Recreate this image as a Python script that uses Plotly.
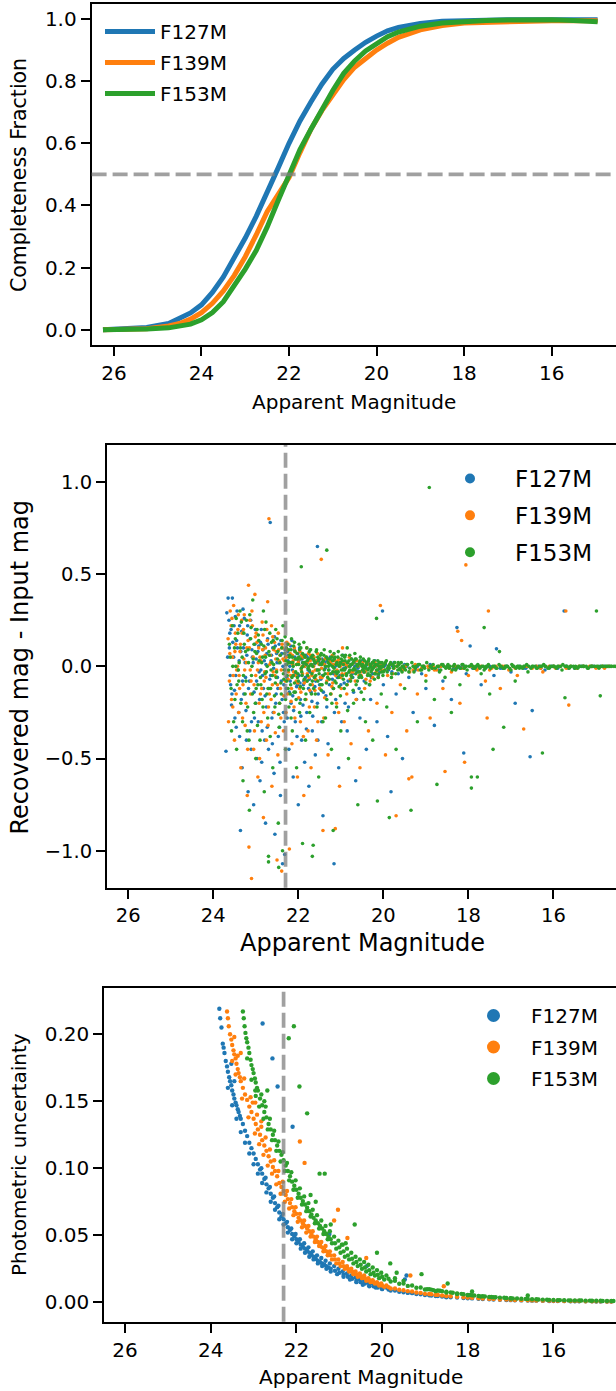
import plotly.graph_objects as go

W, H = 616, 1391
FONT = "DejaVu Sans"
FILTERS = ["F127M", "F139M", "F153M"]
COLORS = ["#1f77b4", "#ff7f0e", "#2ca02c"]
XTICKS = [26, 24, 22, 20, 18, 16]
COMPLETENESS_LEVEL = 0.5
MAG_LIMIT = 22.3

# ---------------- panel 1: completeness curves ----------------
COMP_MAG = [26.25, 25.75, 25.25, 24.75, 24.5, 24.25, 24.0, 23.75, 23.5, 23.25, 23.0, 22.75,
            22.5, 22.25, 22.0, 21.75, 21.5, 21.25, 21.0, 20.75, 20.5, 20.25, 20.0, 19.75,
            19.5, 19.0, 18.5, 18.0, 17.5, 17.0, 16.5, 16.0, 15.5, 14.95]
COMP_F127M = [0.0, 0.002, 0.007, 0.02, 0.035, 0.054, 0.08, 0.12, 0.17, 0.232, 0.295, 0.365,
              0.44, 0.52, 0.6, 0.672, 0.733, 0.79, 0.838, 0.873, 0.9, 0.925, 0.945, 0.962,
              0.973, 0.986, 0.993, 0.996, 0.998, 0.998, 0.998, 0.998, 0.998, 0.998]
COMP_F139M = [0.0, 0.001, 0.003, 0.012, 0.02, 0.034, 0.055, 0.085, 0.125, 0.175, 0.235, 0.305,
              0.38, 0.435, 0.49, 0.57, 0.645, 0.705, 0.755, 0.805, 0.845, 0.875, 0.9, 0.922,
              0.941, 0.965, 0.979, 0.987, 0.99, 0.992, 0.993, 0.994, 0.994, 0.994]
COMP_F153M = [0.0, 0.0, 0.002, 0.006, 0.01, 0.018, 0.032, 0.055, 0.09, 0.14, 0.195, 0.255,
              0.33, 0.415, 0.5, 0.58, 0.645, 0.71, 0.77, 0.825, 0.865, 0.897, 0.92, 0.943,
              0.958, 0.977, 0.987, 0.992, 0.995, 0.997, 0.998, 0.998, 0.995, 0.991]

# ---------------- panel 2: recovered - input magnitude ----------------
RESID_F127M = [
    (23.70, -0.46), (23.68, 0.29), (23.65, 0.37), (23.62, 0.10), (23.60, -0.05), (23.58, 0.20),
    (23.57, -0.21), (23.55, 0.37), (23.52, 0.05), (23.50, -0.13), (23.48, 0.27), (23.46, -0.33),
    (23.45, 0.14), (23.42, -0.02), (23.40, -0.25), (23.38, 0.22), (23.36, -0.89), (23.35, 0.08),
    (23.32, -0.55), (23.30, 0.31), (23.28, -0.15), (23.25, 0.02), (23.22, -0.40), (23.20, 0.17),
    (23.18, -0.68), (23.15, -0.08), (23.12, 0.25), (23.10, -0.30), (23.08, 0.05), (23.05, -0.75),
    (23.02, 0.12), (23.00, -0.20), (22.97, -0.50), (22.95, 0.08), (22.92, -0.03), (22.90, -0.62),
    (22.87, 0.20), (22.85, -0.35), (22.82, -0.12), (22.80, 0.03), (22.77, -0.85), (22.75, -0.22),
    (22.72, 0.15), (22.70, -0.45), (22.66, 0.78), (22.65, -0.05), (22.62, -0.28), (22.60, 0.10),
    (22.57, -0.58), (22.55, -0.91), (22.52, -0.15), (22.50, 0.02), (22.47, -0.38), (22.45, 0.12),
    (22.42, -0.70), (22.40, -0.08), (22.37, -1.07), (22.35, -0.25), (22.32, -1.02), (22.30, 0.05),
    (22.28, -0.12), (22.25, 0.08), (22.22, -0.45), (22.20, 0.00), (22.17, -0.20), (22.15, 0.14),
    (22.12, -0.60), (22.10, -0.05), (22.07, -0.30), (22.05, 0.04), (22.02, -0.10), (22.00, -0.75),
    (21.97, 0.10), (21.95, -0.18), (21.92, -0.40), (21.90, 0.02), (21.87, -0.08), (21.85, -0.52),
    (21.82, 0.06), (21.80, -0.25), (21.77, -0.02), (21.75, -0.65), (21.72, 0.09), (21.70, -0.14),
    (21.67, -0.35), (21.65, 0.00), (21.62, -0.06), (21.60, -0.48), (21.55, 0.65), (21.55, -0.20),
    (21.52, 0.04), (21.50, -0.10), (21.45, -0.30), (21.42, -0.81), (21.40, 0.03), (21.35, -0.16),
    (21.30, -0.42), (21.25, 0.05), (21.20, -0.07), (21.16, -1.07), (21.15, -0.25), (21.10, 0.02),
    (21.05, -0.55), (21.00, -0.10), (20.95, 0.06), (20.90, -0.20), (20.85, -0.35), (20.80, -0.03),
    (20.75, 0.04), (20.70, -0.14), (20.65, -0.62), (20.60, -0.01), (20.55, -0.28), (20.50, 0.03),
    (20.45, -0.08), (20.40, -0.45), (20.35, 0.02), (20.30, -0.18), (20.25, -0.04), (20.20, 0.03),
    (20.15, -0.30), (20.10, -0.02), (20.02, 0.30), (20.00, -0.10), (19.95, 0.01), (19.90, -0.38),
    (19.82, -0.68), (19.80, -0.03), (19.75, 0.02), (19.70, -0.15), (19.60, -0.01), (19.55, -0.50),
    (19.50, 0.01), (19.40, -0.06), (19.30, -0.25), (19.20, 0.00), (19.10, -0.04), (19.00, -0.12),
    (18.90, 0.01), (18.80, -0.32), (18.70, -0.02), (18.60, -0.08), (18.50, 0.00), (18.40, -0.18),
    (18.27, 0.21), (18.20, -0.01), (18.11, -0.47), (18.05, -0.04), (17.96, 0.11), (17.90, -0.01),
    (17.80, 0.00), (17.70, -0.10), (17.60, -0.01), (17.50, 0.00), (17.40, -0.05), (17.34, 0.095),
    (17.20, -0.01), (17.10, 0.00), (17.00, -0.03), (16.90, -0.20), (16.80, 0.00), (16.70, -0.01),
    (16.55, -0.49), (16.50, -0.24), (16.40, 0.00), (16.30, -0.01), (16.20, -0.02), (16.00, 0.00),
    (15.90, -0.01), (15.75, 0.30), (15.70, 0.00), (15.50, -0.01), (15.30, 0.00), (15.10, 0.00),
    (14.90, 0.00), (14.70, 0.00),
    (23.63, 0.25), (23.59, -0.10), (23.54, 0.13), (23.49, -0.28), (23.44, 0.30), (23.39, 0.03),
    (23.34, -0.18), (23.29, 0.10), (23.24, -0.06), (23.19, 0.22), (23.14, -0.35), (23.09, 0.09),
    (23.04, -0.14), (22.99, 0.04), (22.94, -0.30), (22.89, 0.13), (22.84, -0.05), (22.79, -0.40),
    (22.74, 0.07), (22.69, -0.12), (22.64, 0.03), (22.59, -0.25), (22.54, 0.11), (22.49, -0.06),
    (22.44, -0.33), (22.39, 0.07), (22.34, -0.10), (22.29, 0.01), (22.26, -0.28), (22.23, 0.06),
    (22.19, -0.08), (22.16, 0.02), (22.13, -0.16), (22.09, 0.09), (22.06, -0.04), (22.03, -0.38),
    (21.99, 0.03), (21.96, -0.09), (21.93, 0.06), (21.89, -0.21), (21.86, 0.01), (21.83, -0.06),
    (21.79, 0.05), (21.76, -0.12), (21.73, -0.03), (21.69, 0.04), (21.66, -0.27), (21.63, 0.01),
    (21.59, -0.08), (21.56, 0.03), (21.53, -0.15), (21.48, 0.01), (21.43, -0.05), (21.38, 0.02),
    (21.33, -0.22), (21.28, -0.02), (21.23, 0.03), (21.18, -0.12), (21.13, 0.00), (21.08, -0.06),
    (21.03, 0.02), (20.98, -0.30), (20.93, -0.01), (20.88, 0.02), (20.83, -0.08), (20.78, 0.00),
    (20.73, -0.04), (20.68, 0.02), (20.63, -0.18), (20.58, 0.00), (20.48, -0.02), (20.38, 0.01),
    (20.28, -0.06), (20.18, 0.00), (20.08, -0.03), (19.98, 0.00), (19.88, -0.02), (19.78, 0.00),
    (19.65, -0.04), (19.45, 0.00), (19.25, -0.02), (19.05, 0.00), (18.85, -0.01), (18.65, 0.00),
    (18.35, -0.01), (18.15, 0.00), (17.85, -0.01), (17.55, 0.00), (17.25, -0.01), (16.95, 0.00),
    (16.65, -0.01), (16.35, 0.00), (16.05, 0.00), (15.65, -0.01), (15.35, 0.00), (15.05, 0.00),
    (14.80, 0.00),
    (23.66, 0.05), (23.61, 0.18), (23.56, -0.15), (23.51, 0.22), (23.47, -0.05), (23.43, 0.10),
    (23.38, -0.38), (23.33, 0.19), (23.31, -0.08), (23.27, 0.26), (23.23, -0.24), (23.21, 0.06),
    (23.17, -0.12), (23.13, 0.15), (23.11, -0.45), (23.06, 0.02), (23.03, -0.28), (23.01, 0.20),
    (22.98, -0.08), (22.93, 0.11), (22.91, -0.18), (22.88, -0.02), (22.86, -0.52), (22.83, 0.09),
    (22.78, -0.16), (22.76, 0.01), (22.73, -0.33), (22.71, 0.12), (22.67, -0.07), (22.63, 0.06),
    (22.61, -0.42), (22.58, -0.01), (22.56, 0.16), (22.53, -0.20), (22.51, 0.07), (22.48, -0.12),
    (22.46, 0.02), (22.43, -0.52), (22.41, 0.14), (22.38, -0.18), (22.36, 0.00), (22.33, -0.30),
    (22.31, 0.09), (22.27, -0.06), (22.24, 0.03), (22.21, -0.14), (22.18, 0.11), (22.14, -0.02),
    (22.11, -0.24), (22.08, 0.05), (22.04, -0.11), (22.01, 0.07), (21.98, -0.05), (21.94, -0.27),
    (21.91, 0.04), (21.88, -0.10), (21.84, 0.00), (21.81, -0.34), (21.78, 0.03), (21.74, -0.07),
    (21.71, 0.01), (21.68, -0.19), (21.64, 0.05), (21.61, -0.11), (21.57, -0.02), (21.54, -0.40),
    (21.51, 0.02), (21.47, -0.07), (21.44, 0.04), (21.41, -0.14), (21.37, -0.01), (21.32, 0.03),
    (21.27, -0.10), (21.22, 0.01), (21.17, -0.04), (21.12, -0.18), (21.07, 0.01), (21.02, -0.05),
    (20.97, 0.02), (20.92, -0.09), (20.87, 0.00), (20.82, -0.22), (20.77, 0.01), (20.72, -0.06),
    (20.67, 0.00), (20.62, -0.03), (20.57, -0.12), (20.52, 0.01), (20.46, -0.03), (20.42, 0.00),
    (20.33, -0.10), (20.22, 0.00), (20.12, -0.05), (20.04, 0.01),
]
RESID_F139M = [
    (23.65, 0.15), (23.62, -0.08), (23.60, 0.30), (23.57, -0.18), (23.55, 0.05), (23.52, 0.33),
    (23.50, -0.40), (23.47, 0.12), (23.45, -0.02), (23.42, 0.20), (23.40, -0.25), (23.37, 0.08),
    (23.35, -0.55), (23.32, 0.18), (23.30, -0.10), (23.27, 0.28), (23.25, -0.32), (23.22, 0.02),
    (23.20, -0.70), (23.17, 0.44), (23.16, -0.98), (23.15, 0.10), (23.12, -0.15), (23.10, -1.15),
    (23.08, 0.22), (23.05, -0.45), (23.02, 0.39), (23.00, -0.05), (22.97, 0.13), (22.95, -0.60),
    (22.92, -0.20), (22.90, 0.05), (22.87, -0.30), (22.85, 0.24), (22.82, -0.82), (22.80, -0.08),
    (22.77, 0.10), (22.75, -0.40), (22.72, 0.35), (22.69, 0.80), (22.68, -0.15), (22.65, 0.02),
    (22.62, -0.65), (22.60, 0.16), (22.57, -0.25), (22.55, -0.05), (22.52, 0.08), (22.50, -1.05),
    (22.48, -0.48), (22.45, 0.03), (22.42, -0.12), (22.39, -1.11), (22.38, 0.12), (22.35, -0.35),
    (22.32, -0.02), (22.28, 0.05), (22.25, -0.15), (22.22, 0.12), (22.21, -0.99), (22.18, -0.05),
    (22.15, -0.42), (22.12, 0.03), (22.10, -0.22), (22.07, 0.08), (22.05, -0.08), (22.02, -0.60),
    (22.00, 0.02), (21.97, -0.12), (21.95, -0.30), (21.92, 0.06), (21.90, -0.04), (21.87, -0.70),
    (21.85, 0.00), (21.82, -0.18), (21.80, 0.10), (21.77, -0.35), (21.75, -0.06), (21.72, 0.03),
    (21.70, -0.55), (21.67, -0.10), (21.65, 0.05), (21.62, -0.22), (21.60, -0.02), (21.57, -0.40),
    (21.55, 0.07), (21.50, -0.12), (21.46, 0.58), (21.45, -0.01), (21.42, -0.89), (21.40, -0.28),
    (21.37, 0.04), (21.33, -0.08), (21.30, -0.48), (21.27, 0.02), (21.23, -0.15), (21.20, 0.06),
    (21.16, -0.03), (21.13, -0.88), (21.10, -0.20), (21.07, 0.03), (21.03, -0.65), (21.00, -0.06),
    (20.96, 0.10), (20.92, -0.30), (20.88, 0.01), (20.85, -0.10), (20.80, 0.05), (20.76, -0.42),
    (20.72, -0.03), (20.68, 0.03), (20.64, -0.18), (20.60, 0.00), (20.55, -0.55), (20.52, -0.05),
    (20.48, 0.02), (20.44, -0.12), (20.40, -0.02), (20.35, -0.35), (20.30, 0.01), (20.25, -0.06),
    (20.20, 0.02), (20.15, -0.20), (20.07, 0.33), (20.05, -0.02), (20.00, 0.01), (19.95, -0.48),
    (19.90, -0.05), (19.85, 0.01), (19.80, -0.25), (19.75, -0.01), (19.70, -0.81), (19.65, 0.01),
    (19.60, -0.10), (19.55, -0.02), (19.50, 0.00), (19.45, -0.35), (19.40, -0.61), (19.33, -0.60),
    (19.30, -0.02), (19.25, 0.01), (19.20, -0.15), (19.10, -0.01), (19.00, -0.05), (18.95, 0.00),
    (18.90, -0.28), (18.80, -0.02), (18.70, 0.00), (18.60, -0.12), (18.55, -0.57), (18.50, 0.00),
    (18.40, -0.03), (18.30, 0.00), (18.25, 0.19), (18.20, -0.20), (18.16, 0.14), (18.10, -0.01),
    (18.09, -0.52), (18.06, 0.55), (18.00, -0.05), (17.90, 0.00), (17.80, -0.02), (17.70, 0.00),
    (17.60, -0.08), (17.56, -0.28), (17.53, 0.30), (17.45, -0.01), (17.35, 0.00), (17.25, -0.12),
    (17.15, 0.00), (17.05, -0.02), (16.95, 0.00), (16.85, -0.05), (16.70, -0.34), (16.65, 0.00),
    (16.50, -0.01), (16.40, 0.00), (16.25, -0.03), (16.10, 0.00), (15.95, -0.01), (15.85, 0.00),
    (15.71, 0.30), (15.64, -0.21), (15.60, 0.00), (15.45, -0.01), (15.30, 0.00), (15.15, 0.00),
    (15.00, -0.01), (14.85, 0.00), (14.70, 0.00),
    (23.58, 0.22), (23.53, -0.05), (23.48, 0.18), (23.43, 0.00), (23.38, -0.12), (23.33, 0.25),
    (23.28, 0.04), (23.23, -0.20), (23.18, 0.14), (23.13, -0.02), (23.09, 0.30), (23.04, -0.10),
    (22.99, 0.18), (22.94, 0.02), (22.89, -0.15), (22.84, 0.09), (22.79, -0.03), (22.74, 0.20),
    (22.70, -0.22), (22.66, 0.06), (22.61, -0.10), (22.56, 0.13), (22.51, -0.02), (22.46, 0.09),
    (22.41, -0.28), (22.36, 0.04), (22.31, -0.08), (22.27, 0.13), (22.23, -0.03), (22.19, 0.07),
    (22.16, -0.12), (22.13, 0.01), (22.09, 0.10), (22.06, -0.05), (22.03, 0.04), (21.99, -0.17),
    (21.96, 0.08), (21.93, -0.02), (21.89, 0.05), (21.86, -0.09), (21.83, 0.02), (21.79, -0.04),
    (21.76, 0.07), (21.73, -0.13), (21.69, 0.01), (21.66, -0.03), (21.63, 0.05), (21.59, -0.07),
    (21.56, 0.02), (21.53, -0.02), (21.49, 0.04), (21.44, -0.06), (21.39, 0.01), (21.34, 0.05),
    (21.29, -0.04), (21.24, 0.02), (21.19, -0.09), (21.14, 0.03), (21.09, -0.02), (21.04, 0.04),
    (20.99, -0.12), (20.94, 0.01), (20.89, -0.04), (20.84, 0.02), (20.78, -0.07), (20.74, 0.01),
    (20.69, -0.02), (20.62, 0.03), (20.57, -0.05), (20.50, 0.00), (20.43, -0.03), (20.37, 0.02),
    (20.31, -0.08), (20.23, 0.00), (20.17, -0.03), (20.09, 0.01), (19.98, -0.02), (19.88, 0.00),
    (19.78, -0.04), (19.68, 0.00), (19.58, -0.01), (19.48, 0.00), (19.38, -0.03), (19.28, 0.00),
    (19.18, -0.02), (19.05, 0.00), (18.93, -0.01), (18.83, 0.00), (18.75, -0.02), (18.65, 0.00),
    (18.45, -0.01), (18.35, 0.00), (18.15, -0.01), (17.95, 0.00), (17.75, -0.01), (17.50, -0.02),
    (17.20, 0.00), (16.90, -0.01), (16.60, 0.00), (16.30, -0.01), (16.00, 0.00), (15.70, -0.01),
    (15.40, 0.00), (15.10, 0.00), (14.80, -0.01),
    (23.64, -0.30), (23.61, 0.07), (23.56, 0.26), (23.54, -0.22), (23.49, 0.08), (23.46, -0.15),
    (23.41, 0.28), (23.39, -0.05), (23.36, 0.12), (23.31, -0.28), (23.29, 0.20), (23.26, -0.02),
    (23.21, 0.10), (23.19, -0.45), (23.14, 0.25), (23.11, -0.08), (23.06, 0.05), (23.03, -0.35),
    (23.01, 0.16), (22.96, -0.02), (22.93, 0.10), (22.91, -0.50), (22.88, 0.03), (22.86, -0.12),
    (22.83, 0.17), (22.81, -0.25), (22.78, 0.06), (22.76, -0.06), (22.73, 0.14), (22.71, -0.32),
    (22.67, 0.01), (22.64, -0.18), (22.63, 0.22), (22.59, -0.03), (22.58, 0.09), (22.54, -0.36),
    (22.53, 0.04), (22.49, -0.10), (22.47, 0.18), (22.44, -0.20), (22.43, 0.06), (22.40, -0.02),
    (22.37, 0.10), (22.34, -0.16), (22.33, 0.03), (22.29, -0.25), (22.26, 0.09), (22.24, -0.07),
    (22.20, 0.02), (22.17, -0.19), (22.14, 0.06), (22.11, -0.03), (22.08, -0.28), (22.04, 0.01),
    (22.01, -0.09), (21.98, 0.04), (21.94, -0.14), (21.91, 0.00), (21.88, -0.38), (21.84, 0.05),
    (21.81, -0.08), (21.78, 0.02), (21.74, -0.22), (21.71, 0.06), (21.68, -0.05), (21.64, 0.00),
    (21.61, -0.13), (21.58, 0.03), (21.54, -0.30), (21.51, 0.01), (21.48, -0.06), (21.43, 0.02),
    (21.38, -0.17), (21.35, 0.00), (21.31, -0.04), (21.26, 0.03), (21.21, -0.11), (21.17, 0.01),
    (21.12, -0.05), (21.08, 0.02), (21.05, -0.25), (21.01, 0.00), (20.97, -0.04), (20.93, 0.02),
    (20.86, -0.15), (20.82, 0.00), (20.77, -0.03), (20.70, 0.02), (20.66, -0.08), (20.58, 0.01),
    (20.53, -0.03), (20.46, 0.00), (20.41, -0.07), (20.33, 0.01), (20.27, -0.02), (20.19, 0.00),
    (20.12, -0.06), (20.03, 0.00),
]
RESID_F153M = [
    (23.60, 0.05), (23.58, -0.12), (23.55, 0.22), (23.52, -0.30), (23.50, 0.10), (23.47, 0.00),
    (23.45, -0.45), (23.42, 0.18), (23.40, -0.08), (23.37, 0.30), (23.35, -0.20), (23.32, 0.05),
    (23.30, -0.62), (23.27, 0.12), (23.25, -0.15), (23.22, 0.25), (23.20, -0.35), (23.17, 0.02),
    (23.15, -0.78), (23.12, 0.15), (23.10, -0.05), (23.07, 0.36), (23.05, -0.25), (23.02, 0.08),
    (23.00, -0.50), (22.97, 0.20), (22.95, -0.10), (22.92, 0.03), (22.90, -0.40), (22.87, 0.12),
    (22.85, -0.18), (22.82, 0.30), (22.80, -0.68), (22.77, 0.05), (22.75, -0.03), (22.72, -0.28),
    (22.70, -1.03), (22.70, -1.06), (22.67, 0.18), (22.65, -0.12), (22.62, 0.02), (22.60, -0.55),
    (22.57, 0.10), (22.55, -0.22), (22.52, -0.06), (22.50, 0.15), (22.47, -0.85), (22.46, -1.09),
    (22.45, -0.33), (22.42, 0.06), (22.40, -0.15), (22.37, -1.00), (22.36, 0.22), (22.33, -0.02),
    (22.30, -0.45), (22.28, 0.10), (22.26, -0.05), (22.24, 0.02), (22.22, -0.22), (22.20, 0.06),
    (22.18, -0.10), (22.16, 0.15), (22.14, -0.35), (22.12, 0.00), (22.10, -0.14), (22.08, 0.08),
    (22.06, -0.03), (22.04, -0.55), (22.02, 0.04), (22.00, -0.08), (21.98, 0.12), (21.96, -0.20),
    (21.93, 0.54), (21.93, -0.01), (21.90, -0.96), (21.90, 0.07), (21.88, -0.12), (21.85, 0.02),
    (21.83, -0.40), (21.80, 0.10), (21.78, -0.05), (21.75, 0.00), (21.73, -0.25), (21.70, 0.05),
    (21.67, -1.03), (21.67, -0.08), (21.65, -0.97), (21.63, 0.03), (21.60, -0.15), (21.58, 0.08),
    (21.55, -0.02), (21.52, -0.60), (21.50, 0.04), (21.47, -0.10), (21.45, 0.01), (21.42, -0.30),
    (21.40, 0.06), (21.37, -0.04), (21.33, 0.63), (21.33, -0.18), (21.30, 0.02), (21.27, -0.07),
    (21.25, 0.08), (21.22, -0.45), (21.20, 0.00), (21.18, -0.89), (21.17, -0.12), (21.15, 0.04),
    (21.12, -0.03), (21.10, -0.22), (21.07, 0.05), (21.05, -0.06), (21.02, 0.01), (21.00, -0.35),
    (20.97, 0.06), (20.95, -0.02), (20.92, -0.12), (20.90, 0.03), (20.87, -0.05), (20.85, 0.10),
    (20.82, -0.50), (20.80, 0.00), (20.77, -0.08), (20.75, 0.04), (20.72, -0.02), (20.70, -0.20),
    (20.67, 0.07), (20.65, -0.04), (20.62, 0.01), (20.60, -0.75), (20.57, -0.06), (20.55, 0.03),
    (20.52, -0.14), (20.50, 0.00), (20.47, 0.04), (20.45, -0.03), (20.42, -0.30), (20.40, 0.01),
    (20.37, -0.05), (20.35, 0.03), (20.32, -0.10), (20.30, 0.00), (20.27, -0.02), (20.25, -0.40),
    (20.22, 0.03), (20.20, -0.04), (20.16, 0.26), (20.15, 0.01), (20.14, -0.73), (20.12, -0.06),
    (20.10, 0.02), (20.05, -0.15), (20.02, 0.00), (20.00, -0.03), (19.95, 0.02), (19.92, -0.22),
    (19.90, -0.01), (19.86, -0.82), (19.85, 0.01), (19.80, -0.04), (19.75, 0.00), (19.70, -0.45),
    (19.65, 0.02), (19.60, -0.02), (19.55, 0.00), (19.50, -0.12), (19.45, 0.01), (19.40, -0.03),
    (19.35, -0.78), (19.30, 0.00), (19.25, -0.01), (19.20, -0.30), (19.15, 0.01), (19.10, -0.02),
    (19.05, 0.00), (19.00, -0.08), (18.92, 0.97), (18.90, 0.00), (18.85, -0.01), (18.80, -0.18),
    (18.74, -0.64), (18.70, 0.00), (18.65, -0.02), (18.60, 0.01), (18.55, -0.06), (18.50, 0.00),
    (18.45, -0.01), (18.40, -0.25), (18.35, 0.00), (18.30, -0.02), (18.25, 0.00), (18.20, -0.10),
    (18.15, 0.01), (18.10, -0.01), (18.05, 0.00), (17.93, -0.60), (17.93, -0.66), (17.90, 0.00),
    (17.85, -0.01), (17.79, -0.60), (17.75, 0.00), (17.70, -0.04), (17.65, 0.00), (17.63, 0.21),
    (17.60, -0.01), (17.55, 0.00), (17.50, -0.15), (17.42, -0.45), (17.40, 0.00), (17.35, -0.01),
    (17.27, 0.08), (17.25, 0.00), (17.17, -0.33), (17.15, -0.01), (17.10, 0.00), (17.00, -0.02),
    (16.95, 0.00), (16.90, -0.08), (16.85, 0.00), (16.80, -0.01), (16.70, 0.00), (16.60, -0.03),
    (16.50, 0.00), (16.40, -0.01), (16.30, 0.00), (16.26, -0.47), (16.20, 0.00), (16.10, -0.01),
    (16.00, 0.00), (15.90, 0.00), (15.80, -0.02), (15.73, -0.17), (15.70, 0.00), (15.60, 0.00),
    (15.50, -0.01), (15.40, 0.00), (15.30, 0.00), (15.20, -0.01), (15.10, 0.00), (14.99, 0.30),
    (14.95, 0.00), (14.90, -0.16), (14.85, 0.00), (14.75, 0.00), (14.65, 0.00), (14.55, 0.00),
    (23.48, 0.15), (23.44, -0.10), (23.39, 0.02), (23.34, 0.24), (23.29, -0.05), (23.24, 0.08),
    (23.19, -0.22), (23.14, 0.28), (23.09, 0.00), (23.04, 0.12), (22.99, -0.12), (22.94, 0.17),
    (22.89, -0.06), (22.84, 0.05), (22.79, 0.20), (22.74, -0.15), (22.69, 0.08), (22.64, -0.02),
    (22.59, 0.14), (22.54, -0.09), (22.49, 0.04), (22.44, -0.20), (22.39, 0.10), (22.34, -0.07),
    (22.31, 0.16),
    (22.29, 0.03), (22.27, -0.08), (22.25, 0.12), (22.23, -0.02), (22.21, 0.05), (22.19, -0.15),
    (22.17, 0.09), (22.15, -0.06), (22.13, 0.02), (22.11, 0.11), (22.09, -0.09), (22.07, 0.04),
    (22.05, -0.18), (22.03, 0.07), (22.01, -0.04), (21.99, 0.01), (21.97, 0.09), (21.95, -0.11),
    (21.94, 0.04), (21.92, -0.03), (21.89, 0.02), (21.87, 0.13), (21.86, -0.07), (21.84, 0.05),
    (21.82, -0.15), (21.79, 0.03), (21.77, -0.01), (21.74, 0.08), (21.72, -0.10), (21.69, 0.01),
    (21.68, -0.04), (21.66, 0.06), (21.64, -0.12), (21.61, 0.02), (21.59, -0.05), (21.57, 0.09),
    (21.54, -0.08), (21.53, 0.03), (21.51, -0.02), (21.48, 0.06), (21.46, -0.13), (21.44, 0.02),
    (21.41, -0.05), (21.39, 0.09), (21.36, 0.00), (21.34, -0.09), (21.31, 0.04), (21.29, -0.02),
    (21.26, 0.01), (21.24, -0.15), (21.21, 0.05), (21.19, -0.03), (21.16, 0.07), (21.14, -0.08),
    (21.11, 0.01), (21.09, -0.04), (21.06, 0.08), (21.04, -0.11), (21.01, 0.02), (20.99, -0.02),
    (20.96, 0.03), (20.94, -0.07), (20.91, 0.05), (20.89, -0.01), (20.86, -0.10), (20.84, 0.02),
    (20.81, -0.03), (20.79, 0.06), (20.76, -0.05), (20.74, 0.01), (20.71, -0.13), (20.69, 0.03),
    (20.66, -0.02), (20.64, 0.04), (20.61, -0.08), (20.59, 0.01), (20.56, -0.03), (20.54, 0.05),
    (20.51, -0.06), (20.49, 0.01), (20.46, -0.01), (20.44, 0.03), (20.41, -0.09), (20.39, 0.02),
    (20.36, -0.02), (20.34, 0.04), (20.31, -0.05), (20.29, 0.01), (20.26, -0.01), (20.24, 0.02),
    (20.21, -0.07), (20.19, 0.01), (20.16, -0.02), (20.13, 0.03), (20.11, -0.04), (20.08, 0.00),
    (20.06, -0.01), (20.03, 0.02), (20.01, -0.05), (19.98, 0.01), (19.96, -0.02), (19.93, 0.03),
    (19.91, -0.03), (19.88, 0.00), (19.86, -0.01), (19.83, 0.02), (19.81, -0.06), (19.78, 0.01),
    (19.76, -0.01), (19.73, 0.02), (19.71, -0.04), (19.68, 0.00), (19.66, -0.02), (19.63, 0.01),
    (19.61, -0.01), (19.58, 0.02), (19.56, -0.03), (19.53, 0.00), (19.51, -0.01),
    (19.48, -0.02), (19.43, 0.01), (19.38, -0.01), (19.33, 0.02), (19.28, -0.03), (19.23, 0.00),
    (19.18, 0.01), (19.13, -0.02), (19.08, 0.00), (19.03, -0.01), (18.98, 0.02), (18.93, -0.02),
    (18.88, 0.00), (18.83, 0.01), (18.78, -0.01), (18.73, 0.00), (18.68, -0.03), (18.63, 0.01),
    (18.58, 0.00), (18.53, -0.01), (18.48, 0.01), (18.43, 0.00), (18.38, -0.02), (18.33, 0.01),
    (18.28, -0.01), (18.23, 0.00), (18.18, -0.01), (18.13, 0.01), (18.08, 0.00), (18.03, -0.02),
    (17.98, 0.00), (17.93, 0.01), (17.88, -0.01), (17.83, 0.00), (17.78, 0.01), (17.73, -0.01),
    (17.68, 0.00), (17.63, -0.02), (17.58, 0.00), (17.53, 0.01), (17.48, -0.01), (17.43, 0.00),
    (17.38, 0.00), (17.33, -0.01), (17.28, 0.01), (17.23, 0.00), (17.18, -0.01), (17.13, 0.00),
    (17.08, 0.00), (17.03, -0.01), (16.98, 0.01), (16.93, 0.00), (16.88, -0.01), (16.83, 0.00),
    (16.78, 0.00), (16.73, -0.01), (16.68, 0.00), (16.63, 0.01), (16.58, 0.00), (16.53, -0.01),
    (16.48, 0.00), (16.43, 0.00), (16.38, -0.01), (16.33, 0.00), (16.28, 0.00), (16.23, 0.01),
    (16.18, 0.00), (16.13, -0.01), (16.08, 0.00), (16.03, 0.00), (15.98, 0.00), (15.93, -0.01),
    (15.88, 0.00), (15.83, 0.00), (15.78, 0.01), (15.73, 0.00), (15.68, 0.00), (15.63, -0.01),
    (15.58, 0.00), (15.53, 0.00), (15.48, 0.00), (15.43, -0.01), (15.38, 0.00), (15.33, 0.00),
    (15.28, 0.00), (15.23, 0.00), (15.18, -0.01), (15.13, 0.00), (15.08, 0.00), (15.03, 0.00),
    (14.98, 0.00), (14.93, -0.01), (14.88, 0.00), (14.83, 0.00), (14.78, 0.00), (14.73, 0.00),
    (14.68, 0.00), (14.63, 0.00), (14.58, 0.00),
    (23.62, 0.12), (23.57, -0.35), (23.54, 0.00), (23.49, -0.18), (23.46, 0.26), (23.41, -0.02),
    (23.36, 0.10), (23.31, -0.30), (23.28, 0.18), (23.23, -0.08), (23.18, 0.09), (23.16, -0.40),
    (23.11, 0.21), (23.08, -0.15), (23.06, 0.04), (23.01, -0.20), (22.98, 0.07), (22.96, -0.32),
    (22.93, 0.14), (22.88, -0.10), (22.86, 0.02), (22.83, -0.22), (22.81, 0.11), (22.78, -0.04),
    (22.76, 0.24), (22.73, 0.00), (22.71, -0.12), (22.68, 0.06), (22.66, -0.38), (22.63, 0.13),
    (22.61, -0.05), (22.58, 0.01), (22.56, -0.16), (22.53, 0.20), (22.51, -0.03), (22.48, 0.08),
    (22.46, -0.26), (22.43, 0.02), (22.41, -0.09), (22.38, 0.14), (22.35, -0.04), (22.32, 0.07),
    (22.30, -0.18), (22.27, 0.01), (22.24, -0.12), (22.22, 0.09), (22.19, 0.02), (22.17, -0.28),
    (22.14, 0.05), (22.12, -0.05), (22.09, 0.13), (22.07, -0.14), (22.04, 0.01), (22.02, -0.06),
    (21.99, 0.05), (21.97, -0.25), (21.94, 0.10), (21.91, -0.05), (21.89, 0.00), (21.86, 0.06),
    (21.84, -0.18), (21.81, 0.01), (21.79, -0.08), (21.76, 0.04), (21.74, -0.02), (21.71, 0.09),
    (21.69, -0.15), (21.66, 0.00), (21.64, 0.04), (21.62, -0.06), (21.59, 0.02), (21.56, -0.22),
    (21.54, 0.05), (21.51, -0.04), (21.49, 0.01), (21.46, 0.07), (21.44, -0.10), (21.41, 0.03),
    (21.39, -0.02), (21.36, -0.28), (21.34, 0.05), (21.31, -0.06), (21.29, 0.00), (21.26, 0.04),
    (21.24, -0.04), (21.21, -0.20), (21.19, 0.03), (21.16, -0.01), (21.14, 0.05), (21.11, -0.09),
    (21.09, 0.02), (21.06, -0.03), (21.04, 0.00), (21.01, -0.16), (20.99, 0.04), (20.96, -0.05),
    (20.94, 0.01), (20.91, -0.02), (20.89, 0.06), (20.86, -0.04), (20.84, -0.24), (20.81, 0.03),
    (20.79, -0.02), (20.76, 0.01), (20.74, -0.06), (20.71, 0.02), (20.69, -0.01), (20.66, 0.04),
    (20.64, -0.10), (20.61, 0.00), (20.59, -0.03), (20.56, 0.02), (20.54, -0.05), (20.51, 0.01),
    (20.49, -0.02), (20.46, -0.18), (20.44, 0.00), (20.41, -0.01), (20.39, 0.02), (20.36, -0.04),
    (20.34, -0.01), (20.31, 0.01), (20.29, -0.03), (20.26, 0.02), (20.24, -0.01), (20.21, 0.00),
    (20.19, -0.04), (20.16, 0.01), (20.14, -0.02), (20.11, 0.00), (20.09, -0.01), (20.06, 0.02),
    (20.04, -0.03), (20.01, 0.00),
]

# ---------------- panel 3: photometric uncertainty ----------------
SIGMA_F127M = [
    (23.80, 0.219), (23.78, 0.212), (23.75, 0.205), (23.72, 0.193), (23.70, 0.190), (23.68, 0.186),
    (23.65, 0.180), (23.62, 0.176), (23.60, 0.172), (23.57, 0.168), (23.55, 0.165), (23.52, 0.162),
    (23.50, 0.158), (23.47, 0.155), (23.45, 0.152), (23.42, 0.149), (23.40, 0.147), (23.37, 0.144),
    (23.35, 0.142), (23.32, 0.139), (23.30, 0.137), (23.25, 0.133), (23.20, 0.128), (23.15, 0.124),
    (23.10, 0.119), (23.05, 0.115), (23.00, 0.111), (22.95, 0.107), (22.90, 0.103), (22.85, 0.099),
    (22.80, 0.096), (22.75, 0.092), (22.70, 0.088), (22.65, 0.085), (22.60, 0.081), (22.55, 0.078),
    (22.50, 0.074), (22.45, 0.071), (22.40, 0.067), (22.35, 0.064), (22.30, 0.062), (22.25, 0.059),
    (22.20, 0.056), (22.15, 0.054), (22.10, 0.051), (22.05, 0.049), (22.00, 0.047), (21.95, 0.045),
    (21.90, 0.043), (21.85, 0.0415), (21.80, 0.040), (21.75, 0.0385), (21.70, 0.037), (21.65, 0.0355),
    (21.60, 0.034), (21.55, 0.0325), (21.50, 0.031), (21.45, 0.030), (21.40, 0.029), (21.35, 0.028),
    (21.30, 0.027), (21.25, 0.026), (21.20, 0.025), (21.10, 0.0235), (21.00, 0.022), (20.90, 0.0205),
    (20.80, 0.019), (20.70, 0.0175), (20.60, 0.016), (20.50, 0.015), (20.40, 0.014), (20.30, 0.013),
    (20.20, 0.012), (20.10, 0.011), (20.00, 0.0105), (19.85, 0.0095), (19.70, 0.0088), (19.50, 0.0075),
    (19.30, 0.0068), (19.10, 0.0060), (18.90, 0.0052), (18.70, 0.0046), (18.50, 0.0040), (18.25, 0.0035),
    (18.00, 0.0030), (17.75, 0.0026), (17.50, 0.0022), (17.25, 0.0019), (17.00, 0.0016), (16.75, 0.0014),
    (16.50, 0.0012), (16.25, 0.0011), (16.00, 0.0010), (15.75, 0.0009), (15.50, 0.0008), (15.25, 0.0007),
    (15.00, 0.0006), (14.75, 0.0006),
    (22.82, 0.100), (22.72, 0.093), (22.62, 0.086), (22.52, 0.079), (22.42, 0.072), (22.32, 0.066),
    (22.22, 0.060), (22.12, 0.055), (22.02, 0.051), (21.92, 0.047), (21.82, 0.044), (21.72, 0.041),
    (21.62, 0.038), (21.52, 0.035), (21.42, 0.033), (21.32, 0.031), (21.22, 0.029), (21.12, 0.027),
    (21.02, 0.025), (20.92, 0.023), (20.82, 0.0215), (20.72, 0.020), (20.62, 0.0185), (20.52, 0.017),
    (20.42, 0.016), (20.32, 0.015), (20.22, 0.014), (20.12, 0.013), (20.02, 0.012), (19.90, 0.011),
    (23.60, 0.160), (23.50, 0.147), (23.40, 0.137), (23.30, 0.127), (23.20, 0.119), (23.10, 0.111),
    (23.00, 0.103), (22.90, 0.096), (22.80, 0.089), (22.70, 0.082), (22.60, 0.075), (22.50, 0.069),
    (22.40, 0.062), (22.30, 0.058), (22.20, 0.052), (22.10, 0.047), (22.00, 0.044), (21.90, 0.040),
    (21.80, 0.037), (21.70, 0.034), (21.60, 0.032), (21.50, 0.029), (21.40, 0.027), (21.30, 0.025),
    (21.20, 0.023), (21.05, 0.021), (20.90, 0.019), (20.75, 0.017), (20.60, 0.015), (20.45, 0.013),
    (20.30, 0.012), (20.15, 0.011), (20.00, 0.0098), (19.80, 0.0088), (19.60, 0.0078), (19.40, 0.0070),
    (19.20, 0.0062), (19.00, 0.0054), (18.75, 0.0046), (18.50, 0.0038),
    (18.85, 0.0050), (18.60, 0.0043), (18.40, 0.0038), (18.10, 0.0032), (17.90, 0.0029), (17.65, 0.0024),
    (17.40, 0.0021), (17.10, 0.0017), (16.90, 0.0015), (16.60, 0.0013), (16.40, 0.0012), (16.10, 0.0010),
    (15.90, 0.0010), (15.60, 0.0008), (15.40, 0.0008), (15.10, 0.0007), (14.90, 0.0006), (14.65, 0.0005),
    (22.79, 0.208), (22.56, 0.182), (22.44, 0.161), (22.09, 0.131), (21.23, 0.051), (20.36, 0.027),
    (19.47, 0.017), (19.43, 0.020), (23.52, 0.178), (23.45, 0.165),
]
SIGMA_F139M = [
    (23.62, 0.217), (23.60, 0.212), (23.58, 0.206), (23.55, 0.200), (23.52, 0.196), (23.50, 0.192),
    (23.47, 0.188), (23.45, 0.185), (23.42, 0.182), (23.40, 0.178), (23.37, 0.174), (23.35, 0.171),
    (23.32, 0.168), (23.30, 0.165), (23.25, 0.160), (23.20, 0.155), (23.15, 0.151), (23.10, 0.146),
    (23.05, 0.142), (23.00, 0.137), (22.95, 0.133), (22.90, 0.129), (22.85, 0.125), (22.80, 0.121),
    (22.75, 0.117), (22.70, 0.113), (22.65, 0.109), (22.60, 0.105), (22.55, 0.101), (22.50, 0.098),
    (22.45, 0.094), (22.40, 0.089), (22.35, 0.086), (22.30, 0.083), (22.25, 0.080), (22.20, 0.077),
    (22.15, 0.074), (22.10, 0.071), (22.05, 0.068), (22.00, 0.066), (21.95, 0.063), (21.90, 0.061),
    (21.85, 0.059), (21.80, 0.057), (21.75, 0.055), (21.70, 0.053), (21.65, 0.051), (21.60, 0.049),
    (21.55, 0.047), (21.50, 0.045), (21.45, 0.043), (21.40, 0.041), (21.35, 0.0395), (21.30, 0.038),
    (21.25, 0.0365), (21.20, 0.035), (21.10, 0.032), (21.00, 0.029), (20.90, 0.027), (20.80, 0.025),
    (20.70, 0.023), (20.60, 0.021), (20.50, 0.0195), (20.40, 0.018), (20.30, 0.0165), (20.20, 0.015),
    (20.10, 0.0138), (20.00, 0.0125), (19.85, 0.0113), (19.70, 0.0103), (19.50, 0.0090), (19.30, 0.0080),
    (19.10, 0.0070), (18.90, 0.0062), (18.70, 0.0055), (18.50, 0.0048), (18.25, 0.0041), (18.00, 0.0035),
    (17.75, 0.0030), (17.50, 0.0025), (17.25, 0.0021), (17.00, 0.0018), (16.75, 0.0016), (16.50, 0.0014),
    (16.25, 0.0012), (16.00, 0.0011), (15.75, 0.0010), (15.50, 0.0009), (15.25, 0.0008), (15.00, 0.0007),
    (14.75, 0.0006),
    (23.37, 0.184), (23.22, 0.167), (23.07, 0.153), (22.92, 0.140), (22.82, 0.131), (22.72, 0.123),
    (22.62, 0.114), (22.52, 0.106), (22.42, 0.098), (22.32, 0.090), (22.22, 0.083), (22.12, 0.077),
    (22.02, 0.071), (21.92, 0.066), (21.82, 0.061), (21.72, 0.057), (21.62, 0.053), (21.52, 0.049),
    (21.42, 0.045), (21.32, 0.042), (21.22, 0.038), (21.12, 0.035), (21.02, 0.032), (20.92, 0.030),
    (20.82, 0.027), (20.72, 0.025), (20.62, 0.023), (20.52, 0.0215), (20.42, 0.020), (20.32, 0.018),
    (20.22, 0.0165), (20.12, 0.015), (20.02, 0.014), (19.90, 0.0125),
    (23.50, 0.180), (23.42, 0.170), (23.27, 0.152), (23.12, 0.138), (22.97, 0.126), (22.87, 0.118),
    (22.77, 0.110), (22.67, 0.102), (22.57, 0.096), (22.47, 0.088), (22.37, 0.081), (22.27, 0.075),
    (22.17, 0.070), (22.07, 0.065), (21.97, 0.060), (21.87, 0.056), (21.77, 0.052), (21.67, 0.049),
    (21.57, 0.045), (21.47, 0.042), (21.37, 0.038), (21.27, 0.035), (21.17, 0.032), (21.07, 0.029),
    (20.97, 0.027), (20.87, 0.025), (20.77, 0.023), (20.67, 0.021), (20.57, 0.019), (20.47, 0.018),
    (20.37, 0.016), (20.27, 0.015), (20.17, 0.014), (20.07, 0.0125), (19.95, 0.0115), (19.80, 0.0103),
    (19.60, 0.0093), (19.40, 0.0083), (19.20, 0.0073), (19.00, 0.0063), (18.75, 0.0055), (18.50, 0.0046),
    (18.85, 0.0060), (18.60, 0.0051), (18.40, 0.0045), (18.10, 0.0038), (17.90, 0.0033), (17.65, 0.0028),
    (17.40, 0.0024), (17.10, 0.0020), (16.90, 0.0017), (16.60, 0.0015), (16.40, 0.0013), (16.10, 0.0012),
    (15.90, 0.0011), (15.60, 0.0010), (15.40, 0.0009), (15.10, 0.0008), (14.90, 0.0007), (14.65, 0.0006),
    (21.92, 0.120), (21.81, 0.104), (21.03, 0.069), (21.12, 0.061), (20.81, 0.048), (20.37, 0.033),
    (19.34, 0.020), (18.56, 0.012), (23.45, 0.198), (23.30, 0.186), (23.02, 0.149), (22.96, 0.149),
    (22.82, 0.135),
]
SIGMA_F153M = [
    (23.25, 0.217), (23.23, 0.212), (23.21, 0.206), (23.19, 0.201), (23.17, 0.197), (23.15, 0.194),
    (23.12, 0.190), (23.10, 0.186), (23.07, 0.181), (23.05, 0.177), (23.02, 0.174), (23.00, 0.171),
    (22.97, 0.167), (22.95, 0.164), (22.92, 0.160), (22.90, 0.158), (22.85, 0.152), (22.80, 0.147),
    (22.75, 0.142), (22.70, 0.138), (22.65, 0.133), (22.60, 0.129), (22.55, 0.125), (22.50, 0.121),
    (22.45, 0.117), (22.40, 0.113), (22.35, 0.110), (22.30, 0.106), (22.25, 0.102), (22.20, 0.098),
    (22.15, 0.094), (22.10, 0.090), (22.05, 0.087), (22.00, 0.084), (21.95, 0.081), (21.90, 0.078),
    (21.85, 0.0755), (21.80, 0.073), (21.75, 0.0705), (21.70, 0.068), (21.65, 0.0655), (21.60, 0.063),
    (21.55, 0.061), (21.50, 0.059), (21.45, 0.057), (21.40, 0.055), (21.35, 0.053), (21.30, 0.051),
    (21.25, 0.049), (21.20, 0.047), (21.10, 0.044), (21.00, 0.041), (20.90, 0.038), (20.80, 0.035),
    (20.70, 0.0325), (20.60, 0.030), (20.50, 0.028), (20.40, 0.026), (20.30, 0.024), (20.20, 0.022),
    (20.10, 0.0205), (20.00, 0.019), (19.85, 0.0175), (19.70, 0.016), (19.50, 0.014), (19.30, 0.0125),
    (19.10, 0.011), (18.90, 0.0098), (18.70, 0.0088), (18.50, 0.0078), (18.25, 0.0066), (18.00, 0.0055),
    (17.75, 0.0047), (17.50, 0.0040), (17.25, 0.0035), (17.00, 0.0030), (16.75, 0.0026), (16.50, 0.0023),
    (16.25, 0.0020), (16.00, 0.0017), (15.75, 0.0015), (15.50, 0.0013), (15.25, 0.0012), (15.00, 0.0011),
    (14.75, 0.0010),
    (22.82, 0.155), (22.72, 0.146), (22.62, 0.137), (22.52, 0.128), (22.42, 0.120), (22.32, 0.112),
    (22.22, 0.104), (22.12, 0.097), (22.02, 0.091), (21.92, 0.085), (21.82, 0.079), (21.72, 0.074),
    (21.62, 0.069), (21.52, 0.065), (21.42, 0.061), (21.32, 0.057), (21.22, 0.053), (21.12, 0.049),
    (21.02, 0.046), (20.92, 0.043), (20.82, 0.040), (20.72, 0.037), (20.62, 0.034), (20.52, 0.032),
    (20.42, 0.030), (20.32, 0.028), (20.22, 0.026), (20.12, 0.024), (20.02, 0.022), (19.90, 0.020),
    (19.70, 0.018), (19.50, 0.016),
    (23.15, 0.182), (23.05, 0.166), (22.95, 0.154), (22.87, 0.146), (22.77, 0.137), (22.67, 0.129),
    (22.57, 0.121), (22.47, 0.113), (22.37, 0.105), (22.27, 0.098), (22.17, 0.091), (22.07, 0.084),
    (21.97, 0.078), (21.87, 0.073), (21.77, 0.068), (21.67, 0.064), (21.57, 0.059), (21.47, 0.055),
    (21.37, 0.051), (21.27, 0.047), (21.17, 0.044), (21.07, 0.040), (20.97, 0.037), (20.87, 0.034),
    (20.77, 0.032), (20.67, 0.029), (20.57, 0.027), (20.47, 0.025), (20.37, 0.023), (20.27, 0.021),
    (20.17, 0.020), (20.07, 0.018), (19.95, 0.017), (19.80, 0.0155), (19.60, 0.0138), (19.40, 0.0122),
    (19.20, 0.0108), (19.00, 0.0095), (18.75, 0.0083), (18.50, 0.0072), (18.25, 0.0062), (18.00, 0.0052),
    (17.70, 0.0043), (17.40, 0.0037), (17.00, 0.0029),
    (18.95, 0.0097), (18.85, 0.0094), (18.80, 0.0091), (18.65, 0.0086), (18.60, 0.0083), (18.40, 0.0074),
    (18.35, 0.0071), (18.15, 0.0063), (18.10, 0.0060), (17.95, 0.0054), (17.90, 0.0052), (17.85, 0.0050),
    (17.65, 0.0045), (17.60, 0.0043), (17.45, 0.0039), (17.35, 0.0037), (17.15, 0.0034), (17.10, 0.0032),
    (16.95, 0.0029), (16.85, 0.0028), (16.65, 0.0025), (16.60, 0.0024), (16.40, 0.0022), (16.35, 0.0021),
    (16.15, 0.0019), (16.10, 0.0018), (15.90, 0.0016), (15.85, 0.0016), (15.65, 0.0014), (15.60, 0.0014),
    (15.40, 0.0013), (15.35, 0.0013), (15.15, 0.0012), (15.10, 0.0011), (14.90, 0.0011), (14.85, 0.0010),
    (14.65, 0.0010), (14.60, 0.0010),
    (22.06, 0.206), (22.18, 0.197), (21.93, 0.161), (21.75, 0.141), (21.46, 0.096), (21.34, 0.096),
    (21.67, 0.080), (20.64, 0.058), (20.12, 0.037), (19.81, 0.029), (19.08, 0.021), (19.66, 0.022),
    (20.85, 0.044), (20.94, 0.043), (18.47, 0.014), (22.96, 0.158), (22.68, 0.158), (22.75, 0.150),
    (21.55, 0.075), (21.20, 0.058), (17.90, 0.008), (16.60, 0.005),
]


def fx(px):
    return px / W


def fy(py):
    return 1 - py / H


fig = go.Figure()

# panel 1 lines
for name, col, vals in zip(FILTERS, COLORS, [COMP_F127M, COMP_F139M, COMP_F153M]):
    fig.add_trace(go.Scatter(x=COMP_MAG, y=vals, mode="lines", name=name,
                             line=dict(color=col, width=5), xaxis="x", yaxis="y",
                             legend="legend", legendgroup="a" + name, hoverinfo="skip"))

# panel 2 scatter
for name, col, pts in zip(FILTERS, COLORS, [RESID_F127M, RESID_F139M, RESID_F153M]):
    xs, ys = zip(*pts)
    fig.add_trace(go.Scatter(x=list(xs), y=list(ys), mode="markers", showlegend=False,
                             marker=dict(color=col, size=3.6, line=dict(width=0)),
                             xaxis="x2", yaxis="y2", hoverinfo="skip"))
for name, col in zip(FILTERS, COLORS):
    fig.add_trace(go.Scatter(x=[None], y=[None], mode="markers", name=name,
                             marker=dict(color=col, size=10), xaxis="x2", yaxis="y2",
                             legend="legend2", legendgroup="b" + name))

# panel 3 scatter
for name, col, pts in zip(FILTERS, COLORS, [SIGMA_F127M, SIGMA_F139M, SIGMA_F153M]):
    xs, ys = zip(*pts)
    fig.add_trace(go.Scatter(x=list(xs), y=list(ys), mode="markers", showlegend=False,
                             marker=dict(color=col, size=4.4, line=dict(width=0)),
                             xaxis="x3", yaxis="y3", hoverinfo="skip"))
for name, col in zip(FILTERS, COLORS):
    fig.add_trace(go.Scatter(x=[None], y=[None], mode="markers", name=name,
                             marker=dict(color=col, size=13), xaxis="x3", yaxis="y3",
                             legend="legend3", legendgroup="c" + name))


def xax(dom, rng, anchor, fs):
    return dict(domain=dom, range=rng, anchor=anchor, tickvals=XTICKS, ticks="outside",
                ticklen=9, tickwidth=1.8, tickcolor="black", showline=True, linewidth=1.8,
                linecolor="black", mirror=True, showgrid=False, zeroline=False,
                tickfont=dict(size=fs, color="black", family=FONT))


def yax(dom, rng, anchor, fs, tv, fmt):
    return dict(domain=dom, range=rng, anchor=anchor, tickvals=tv, tickformat=fmt,
                ticks="outside", ticklen=9, tickwidth=1.8, tickcolor="black", showline=True,
                linewidth=1.8, linecolor="black", mirror=False, showgrid=False, zeroline=False,
                tickfont=dict(size=fs, color="black", family=FONT))


dash = dict(color="rgba(128,128,128,0.75)", width=3.7, dash="15px,6px")
shapes = [
    dict(type="line", xref="x domain", yref="y", x0=0, x1=1, y0=COMPLETENESS_LEVEL,
         y1=COMPLETENESS_LEVEL, line=dash, layer="above"),
    dict(type="line", xref="x2", yref="y2 domain", x0=MAG_LIMIT, x1=MAG_LIMIT, y0=0, y1=1,
         line=dash, layer="above"),
    dict(type="line", xref="x3", yref="y3 domain", x0=MAG_LIMIT, x1=MAG_LIMIT, y0=0, y1=1,
         line=dash, layer="above"),
]


def ann(text, px, py, size, angle=0):
    return dict(text=text, xref="paper", yref="paper", x=fx(px), y=fy(py), xanchor="center",
                yanchor="middle", showarrow=False, textangle=angle,
                font=dict(size=size, color="black", family=FONT))


annotations = [
    ann("Apparent Magnitude", 354, 402, 20),
    ann("Completeness Fraction", 19, 175, 20.5, -90),
    ann("Apparent Magnitude", 362, 943, 24),
    ann("Recovered mag - Input mag", 19.5, 667, 24, -90),
    ann("Apparent Magnitude", 361, 1377, 20),
    ann("Photometric uncertainty", 19, 1155, 20, -90),
]

fig.update_layout(
    width=W, height=H, margin=dict(l=0, r=0, t=0, b=0),
    paper_bgcolor="white", plot_bgcolor="white",
    font=dict(family=FONT, color="black"),
    xaxis=xax([fx(91.6), 1], [26.51, 14.53], "y", 20),
    yaxis=yax([fy(345), fy(4)], [-0.0492, 1.0483], "x", 20,
              [0, 0.2, 0.4, 0.6, 0.8, 1.0], ".1f"),
    xaxis2=xax([fx(106.9), 1], [26.50, 14.53], "y2", 19.5),
    yaxis2=yax([fy(887.7), fy(445)], [-1.2, 1.2], "x2", 19.5,
               [-1.0, -0.5, 0.0, 0.5, 1.0], ".1f"),
    xaxis3=xax([fx(104.1), 1], [26.49, 14.54], "y3", 20),
    yaxis3=yax([fy(1321.7), fy(988.3)], [-0.0145, 0.2343], "x3", 20,
               [0, 0.05, 0.10, 0.15, 0.20], ".2f"),
    legend=dict(x=fx(100), y=fy(12), xanchor="left", yanchor="top", bgcolor="rgba(0,0,0,0)",
                font=dict(size=20, family=FONT, color="black"), itemwidth=50, tracegroupgap=2),
    legend2=dict(x=fx(425), y=fy(457), xanchor="left", yanchor="top", bgcolor="rgba(0,0,0,0)",
                 font=dict(size=23, family=FONT, color="black"), itemwidth=80, tracegroupgap=4),
    legend3=dict(x=fx(456), y=fy(996), xanchor="left", yanchor="top", bgcolor="rgba(0,0,0,0)",
                 font=dict(size=20, family=FONT, color="black"), itemwidth=65, tracegroupgap=2.5),
    shapes=shapes, annotations=annotations, showlegend=True,
)

fig.write_html("out.html", config={"displayModeBar": False})
